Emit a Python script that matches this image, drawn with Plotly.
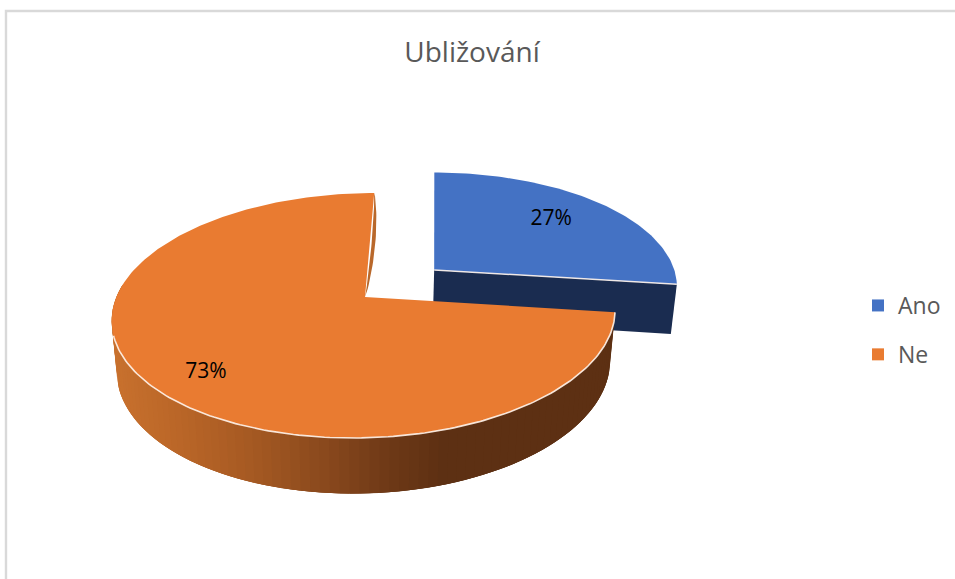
import numpy as np
import plotly.graph_objects as go

# --- data ---
title_text = "Ubližování"
categories = ["Ano", "Ne"]
values = [27, 73]
exploded = [0.36, 0.0]

# --- styles ---
top_colors = ["#4472C4", "#E97B31"]
blue_side = "#1A2C50"
sliver = "#B9682B"
rim = "rgba(255,244,236,0.9)"
text_grey = "#595959"
font = "Open Sans"
side_stops_x = [115, 180, 250, 330, 385, 445, 620]
side_stops_rgb = [(200, 113, 46), (186, 102, 40), (166, 90, 35), (136, 72, 29),
                  (112, 58, 23), (93, 48, 19), (93, 48, 19)]
label_polar = [(47.2, 0.71), (224.0, 0.805)]

# --- projection of the pie disc on to the page (pixel-based hidden axes) ---
CX, CY = 365.0, 297.0
A, B, C, K, M, E = 248.6, 119.7, 10.6, 0.151, 0.02, 51.2


def project(u, v, z=0.0):
    w = 1 + K * v + M * z
    return CX + (A * u + C * v) / w, CY - (B * v - E * z) / w


def side_colour(x):
    return "rgb(%d,%d,%d)" % tuple(
        int(np.interp(x, side_stops_x, [c[i] for c in side_stops_rgb])) for i in range(3))


total = sum(values)
spans = np.cumsum([0] + values) / total * 360.0
geom = []
for i in range(len(values)):
    mid = np.radians((spans[i] + spans[i + 1]) / 2)
    ou, ov = 1.03 * exploded[i] * np.sin(mid), 0.98 * exploded[i] * np.cos(mid)
    geom.append((ou, ov, spans[i], spans[i + 1]))


def ring(i, a0, a1, n, z=0.0):
    ou, ov = geom[i][:2]
    t = np.radians(np.linspace(a0, a1, n))
    return project(ou + np.sin(t), ov + np.cos(t), z)


def poly(x, y, colour, line_colour=None, width=0.0):
    return go.Scatter(x=list(x), y=list(y), mode="lines", fill="toself", fillcolor=colour,
                      line=dict(color=line_colour or colour, width=width),
                      hoverinfo="skip", showlegend=False)


fig = go.Figure()

# Ano: cut face, then top
ou, ov, a0, a1 = geom[0]
xr, yr = ring(0, a1, a1, 1)
xb, yb = ring(0, a1, a1, 1, 1.0)
ax, ay = project(ou, ov)
bx, by = project(ou, ov, 1.0)
fig.add_trace(poly([ax, xr[0], xb[0], bx, ax], [ay, yr[0], yb[0], by, ay], blue_side))
xs, ys = ring(0, a0, a1, 90)
fig.add_trace(poly([ax, *xs, ax], [ay, *ys, ay], top_colors[0]))
fig.add_trace(go.Scatter(x=[ax, xr[0]], y=[ay, yr[0]], mode="lines",
                         line=dict(color=rim, width=1.5), hoverinfo="skip", showlegend=False))

# Ne: shaded wall in overlapping strips (each reaches past the next, so no seams), then top
ou, ov, a0, a1 = geom[1]
edges = np.linspace(a0, 276.0, 91)
for n, e0 in enumerate(edges[:-1]):
    e1 = edges[min(n + 3, len(edges) - 1)]
    xt, yt = ring(1, e0, e1, 5)
    xl, yl = ring(1, e0, e1, 5, 1.0)
    xm, _ = ring(1, e0, edges[n + 1], 2)
    col = side_colour((xm[0] + xm[1]) / 2)
    fig.add_trace(poly([*xt, *xl[::-1], xt[0]], [*yt, *yl[::-1], yt[0]], col))

# thin inner wall seen at the closing cut of Ne
t = np.linspace(0, 1, 30)
x1, y1 = project(0.024 * np.sin(np.pi * t) ** 0.7, t)
x2, y2 = project(0.008 * np.sin(np.pi * t) ** 0.7, t)
fig.add_trace(poly([*x1, *x2[::-1]], [*y1, *y2[::-1]], sliver))

xs, ys = ring(1, a0, a1, 220)
ax, ay = project(ou, ov)
fig.add_trace(poly([ax, *xs, ax], [ay, *ys, ay], top_colors[1]))
xe, ye = ring(1, a0, 252.0, 150)
fig.add_trace(go.Scatter(x=list(xe), y=list(ye), mode="lines",
                         line=dict(color=rim, width=1.6), hoverinfo="skip", showlegend=False))

# percentage labels
lx, ly, ltext = [], [], []
for i, (ang, rad) in enumerate(label_polar):
    a = np.radians(ang)
    px, py = project(geom[i][0] + rad * np.sin(a), geom[i][1] + rad * np.cos(a))
    lx.append(px)
    ly.append(py)
    ltext.append(f"{round(values[i] / total * 100)}%")
fig.add_trace(go.Scatter(x=lx, y=ly, mode="text", text=ltext, textposition="middle center",
                         textfont=dict(family=font, size=21, color="#000000"),
                         hoverinfo="skip", showlegend=False))

# legend entries
for i, name in enumerate(categories):
    fig.add_trace(go.Scatter(x=[None], y=[None], mode="markers", name=name, legendgroup=name,
                             marker=dict(symbol="square", size=7, color=top_colors[i])))

fig.update_layout(
    width=955, height=579, autosize=False,
    margin=dict(l=0, r=0, t=0, b=0),
    paper_bgcolor="white", plot_bgcolor="white",
    title=dict(text=title_text, x=472 / 955, xanchor="center", y=1 - 52 / 579, yanchor="middle",
               font=dict(family=font, size=28, color=text_grey)),
    xaxis=dict(range=[0, 955], visible=False, fixedrange=True),
    yaxis=dict(range=[579, 0], visible=False, fixedrange=True),
    legend=dict(x=858 / 955, xanchor="left", y=1 - 330 / 579, yanchor="middle",
                itemsizing="constant", tracegroupgap=16, bgcolor="rgba(0,0,0,0)",
                font=dict(family=font, size=23, color=text_grey)),
    shapes=[dict(type="path", path="M 6 579 L 6 11 L 955 11", xref="x", yref="y",
                 line=dict(color="#D9D9D9", width=2.4), layer="below")],
)

fig.write_html("out.html", config={"displayModeBar": False},
               post_script="document.body.style.margin='0';document.body.style.overflow='hidden';")
